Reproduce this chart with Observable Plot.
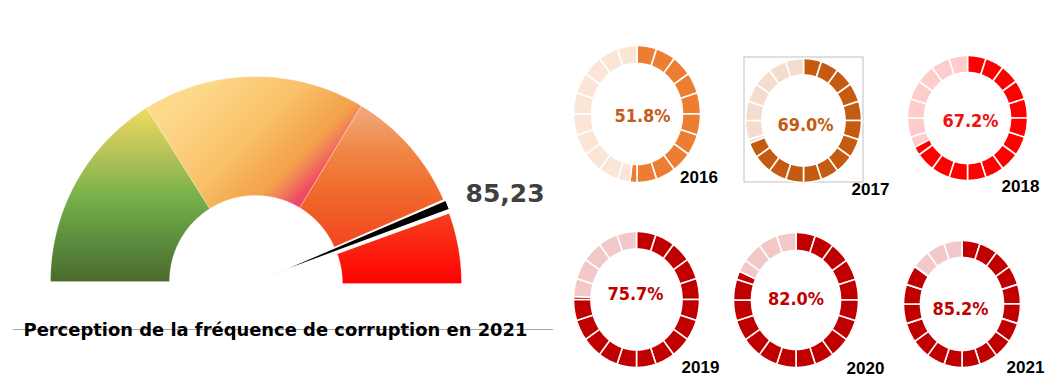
<!DOCTYPE html>
<html><head><meta charset="utf-8">
<script src="https://cdn.jsdelivr.net/npm/d3@7"></script>
<script src="https://cdn.jsdelivr.net/npm/@observablehq/plot@0.6"></script>
<style>html,body{margin:0;padding:0;background:#fff}#chart{width:1060px;height:383px}</style>
</head><body><div id="chart"></div>
<script>
// ---------- DATA ----------
const gaugeLabel = "85,23";
const gaugeValue = 85.23;
const gaugeCaption = "Perception de la fréquence de corruption en 2021";
const gaugeBands = ["vert", "jaune", "orange", "rouge"];
const gaugeBandStart = [0, 32.2, 67.3, 88.9];   // share of the arc (0–100)
const gaugeBandEnd = [32.2, 67.3, 86.9, 100];
const needlePosition = 87.9;
const needleHalfWidth = 0.75;

const years = ["2016", "2017", "2018", "2019", "2020", "2021"];
const rates = [51.8, 69.0, 67.2, 75.7, 82.0, 85.2];
const rateLabels = ["51.8%", "69.0%", "67.2%", "75.7%", "82.0%", "85.2%"];
const segmentsPerRing = 20;

// ---------- LAYOUT / STYLE ----------
const W = 1060, H = 383;
const gauge = {cx: 255, cy: 281, r0: 86, r1: 205};
const bandFill = ["url(#gGreen)", "url(#gYellow)", "url(#gOrange)", "url(#gRed)"];
const bandOffset = [[0, 0], [0, 0], [0, 0], [1, 2]];
const rings = [
  {cx: 636.5, cy: 113.5, rx: 63.5, ry: 68.5, t: 18, lx: 642, ly: 115, yx: 698.5, yy: 177.5},
  {cx: 803, cy: 120, rx: 58, ry: 62, t: 16.5, lx: 805, ly: 123.5, yx: 870, yy: 189},
  {cx: 967, cy: 117.5, rx: 60, ry: 62.5, t: 17, lx: 970, ly: 119.5, yx: 1020, yy: 186},
  {cx: 636, cy: 299, rx: 63, ry: 68, t: 17.5, lx: 635, ly: 293, yx: 700, yy: 367.5},
  {cx: 795.5, cy: 299.5, rx: 62.5, ry: 67.5, t: 18, lx: 795.5, ly: 298, yx: 865, yy: 368.5},
  {cx: 961.5, cy: 303.5, rx: 58.5, ry: 63.5, t: 17, lx: 960, ly: 308, yx: 1025, yy: 367.5}
];
const ringDark = ["#ed7d31", "#c55a11", "#ff0000", "#c00000", "#c00000", "#c00000"];
const ringLight = ["#fbe5d6", "#f4ddcf", "#ffcccc", "#f2c8c8", "#f2c8c8", "#f2c8c8"];
const labelColor = ["#c65b1c", "#c55a11", "#f01010", "#c00000", "#c00000", "#c00000"];

// ---------- GEOMETRY (from values) ----------
// angle in degrees, clockwise from 12 o'clock
function sector(id, fill, g, a0, a1, rxo, ryo, rxi, ryi, dx = 0, dy = 0) {
  const pts = [];
  const n = Math.max(2, Math.ceil(Math.abs(a1 - a0) / 0.5));
  for (let k = 0; k <= n; k++) {
    const a = (a0 + (a1 - a0) * k / n) * Math.PI / 180;
    pts.push({id, fill, x: g.cx + dx + rxo * Math.sin(a), y: g.cy + dy - ryo * Math.cos(a)});
  }
  for (let k = n; k >= 0; k--) {
    const a = (a0 + (a1 - a0) * k / n) * Math.PI / 180;
    pts.push({id, fill, x: g.cx + dx + rxi * Math.sin(a), y: g.cy + dy - ryi * Math.cos(a)});
  }
  return pts;
}
const gaugeAngle = v => v * 1.8 - 90;

const gaugePts = gaugeBands.flatMap((b, i) =>
  sector("g" + i, bandFill[i], gauge, gaugeAngle(gaugeBandStart[i]), gaugeAngle(gaugeBandEnd[i]),
    gauge.r1, gauge.r1, gauge.r0, gauge.r0, bandOffset[i][0], bandOffset[i][1]));

const na = gaugeAngle(needlePosition) * Math.PI / 180;
const nw = needleHalfWidth * 1.8 * Math.PI / 180;
const needlePts = [
  {x: gauge.cx + 14 * Math.sin(na), y: gauge.cy - 14 * Math.cos(na)},
  {x: gauge.cx + 207 * Math.sin(na - nw), y: gauge.cy - 207 * Math.cos(na - nw)},
  {x: gauge.cx + 207 * Math.sin(na + nw), y: gauge.cy - 207 * Math.cos(na + nw)}
];

const ringPts = [];
years.forEach((yr, j) => {
  const g = rings[j], B = rates[j] * 3.6, step = 360 / segmentsPerRing;
  for (let i = 0; i < segmentsPerRing; i++) {
    const s0 = i * step, s1 = s0 + step;
    const pieces = s1 <= B ? [[s0, s1, ringDark[j]]] : s0 >= B ? [[s0, s1, ringLight[j]]]
      : [[s0, B, ringDark[j]], [B, s1, ringLight[j]]];
    pieces.forEach(([a0, a1, c], k) =>
      ringPts.push(...sector(`${yr}-${i}-${k}`, c, g, a0, a1, g.rx, g.ry, g.rx - g.t, g.ry - g.t)));
  }
});

// ---------- PLOT ----------
const plot = Plot.plot({
  width: W, height: H, margin: 0,
  x: {domain: [0, W], range: [0, W], axis: null},
  y: {domain: [0, H], range: [0, H], axis: null},
  color: {type: "identity"},
  style: {background: "#fff", overflow: "visible"},
  marks: [
    Plot.line(gaugePts, {x: "x", y: "y", z: "id", fill: "fill", stroke: "#ffffff", strokeOpacity: 0.5, strokeWidth: 0.6, curve: "linear-closed"}),
    Plot.line(needlePts, {x: "x", y: "y", fill: "#000", stroke: "#fff", strokeWidth: 1.2, curve: "linear-closed"}),
    Plot.text([gaugeLabel], {x: 465, y: 193.5, text: d => d, textAnchor: "start", fontFamily: "DejaVu Sans", fontWeight: "bold", fontSize: 25, fill: "#404040"}),
    Plot.ruleY([329], {x1: 13, x2: 553, stroke: "#a6a6a6", strokeWidth: 1}),
    Plot.text([gaugeCaption], {x: 275, y: 329.5, text: d => d, fontFamily: "DejaVu Sans", fontWeight: "bold", fontSize: 17.5, fill: "#000"}),
    Plot.rect([years[1]], {x1: 744, x2: 863, y1: 57, y2: 182, fill: "none", stroke: "#bfbfbf", strokeWidth: 1}),
    Plot.line(ringPts, {x: "x", y: "y", z: "id", fill: "fill", stroke: "#ffffff", strokeWidth: 1.6, curve: "linear-closed"}),
    Plot.text(rateLabels, {x: (d, i) => rings[i].lx, y: (d, i) => rings[i].ly + 0.8, text: d => d, fill: (d, i) => labelColor[i],
      fontFamily: "'DejaVu Sans Condensed', 'DejaVu Sans'", fontWeight: "bold", fontSize: 18, fontStretch: "condensed"}),
    Plot.text(years, {x: (d, i) => rings[i].yx, y: (d, i) => rings[i].yy, text: d => d, fill: "#000",
      fontFamily: "'Liberation Sans', Arial, sans-serif", fontWeight: "bold", fontSize: 17})
  ]
});

// gradients
const svg = d3.select(plot);
const defs = svg.insert("defs", ":first-child");
function lin(id, x1, y1, x2, y2, stops) {
  const g = defs.append("linearGradient").attr("id", id).attr("gradientUnits", "userSpaceOnUse")
    .attr("x1", x1).attr("y1", y1).attr("x2", x2).attr("y2", y2);
  stops.forEach(([o, c, op = 1]) => g.append("stop").attr("offset", o).attr("stop-color", c).attr("stop-opacity", op));
}
lin("gGreen", 0, 112, 0, 281, [[0, "#ead85e"], [0.25, "#b4c257"], [0.5, "#76b14a"], [0.75, "#5c8e3e"], [1, "#4a6a2e"]]);
lin("gYellow", 195, 88, 312, 206, [[0, "#fdd98c"], [0.45, "#f8c067"], [0.64, "#f4aa50"], [0.74, "#f3a04c"], [0.82, "#f27a58"], [0.9, "#f04c66"], [1, "#f03c6c"]]);
lin("gOrange", 0, 112, 0, 245, [[0, "#efa676"], [0.3, "#f08644"], [0.6, "#f06a2c"], [1, "#f24620"]]);
lin("gRed", 0, 198, 0, 283, [[0, "#f44c24"], [0.5, "#fa2812"], [1, "#ff0000"]]);

// caption width
svg.selectAll("text").filter(function () { return this.textContent === gaugeCaption; })
  .attr("textLength", 504).attr("lengthAdjust", "spacingAndGlyphs");

document.getElementById("chart").appendChild(plot);
</script>
</body></html>
